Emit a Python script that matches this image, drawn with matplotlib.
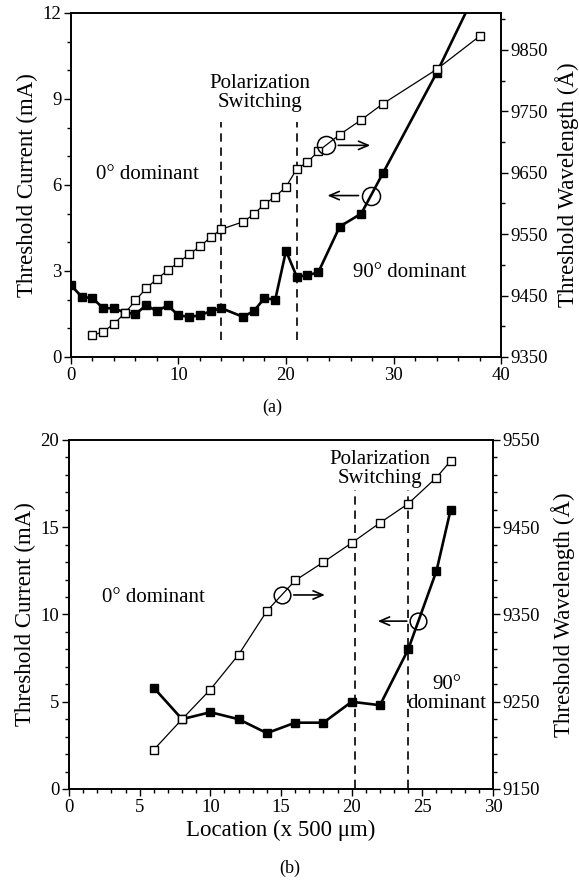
import numpy as np
import matplotlib
matplotlib.use('Agg')
import matplotlib.pyplot as plt
from matplotlib.ticker import MultipleLocator

plt.rcParams['font.family'] = ['Liberation Serif', 'DejaVu Serif']
plt.rcParams['mathtext.fontset'] = 'stix'

# ---- panel (a) data ----
a_loc_I = [0, 1, 2, 3, 4, 5, 6, 7, 8, 9, 10, 11, 12, 13, 14, 16, 17, 18, 19,
           20, 21, 22, 23, 25, 27, 29, 34, 38]
a_current = [2.5, 2.1, 2.05, 1.7, 1.7, 1.55, 1.5, 1.8, 1.6, 1.8, 1.45, 1.4,
             1.45, 1.6, 1.7, 1.4, 1.6, 2.05, 2.0, 3.7, 2.8, 2.85, 2.95, 4.55,
             5.0, 6.4, 9.9, 13.0]
a_loc_W = [2, 3, 4, 5, 6, 7, 8, 9, 10, 11, 12, 13, 14, 16, 17, 18, 19, 20, 21,
           22, 23, 25, 27, 29, 34, 38]
a_wave = [9385, 9391, 9404, 9421, 9442, 9462, 9477, 9491, 9504, 9517, 9530,
          9545, 9558, 9570, 9582, 9599, 9611, 9627, 9656, 9667, 9685, 9712,
          9736, 9762, 9818, 9872]
a_switch = [14, 21]
a_wave_ticks = [9350, 9450, 9550, 9650, 9750, 9850]

# ---- panel (b) data ----
b_loc = [6, 8, 10, 12, 14, 16, 18, 20, 22, 24, 26, 27]
b_current = [5.8, 4.0, 4.4, 4.0, 3.2, 3.8, 3.8, 5.0, 4.8, 8.0, 12.5, 16.0]
b_wave = [9195, 9230, 9264, 9304, 9354, 9389, 9410, 9432, 9455, 9477, 9507,
          9526]
b_switch = [20.2, 24.0]
b_wave_ticks = [9150, 9250, 9350, 9450, 9550]

fig = plt.figure(figsize=(5.79, 8.86), dpi=100)
ax1 = fig.add_axes([0.1226, 0.5971, 0.7427, 0.3883])
ax2 = fig.add_axes([0.1192, 0.1095, 0.7323, 0.3939])

TICK = 13.5
LAB = 16.5
TXT = 15


def style(ax):
    for s in ax.spines.values():
        s.set_linewidth(1.2)
    ax.tick_params(which='both', direction='out', labelsize=TICK, width=1)
    ax.tick_params(which='major', length=5, pad=2)
    ax.tick_params(which='minor', length=3)


def circle_arrow(ax, xs, ys, xc, x0, x1, ms=13):
    yc = np.interp(xc, xs, ys)
    ax.plot([xc], [yc], 'o', ms=ms, mfc='none', mec='k', mew=1.1, zorder=5)
    ax.annotate('', xy=(x1, yc), xytext=(x0, yc),
                arrowprops=dict(arrowstyle='->,head_length=0.7,head_width=0.3',
                                lw=1.2, color='k'))


# ---------------- panel (a) ----------------
ax1b = ax1.twinx()
ax1.plot(a_loc_I, a_current, '-s', color='k', lw=1.9, ms=6, mfc='k', zorder=3)
ax1b.plot(a_loc_W, a_wave, '-s', color='k', lw=0.9, ms=5.5, mfc='white',
          mew=1.0, zorder=3)
ax1.vlines(a_switch, 0.6, 8.2, colors='k', linestyles=(0, (5, 3.5)), lw=1.2)
ax1.set_xlim(0, 40)
ax1.set_ylim(0, 12)
ax1b.set_ylim(9350, 9910)
ax1.xaxis.set_major_locator(MultipleLocator(10))
ax1.xaxis.set_minor_locator(MultipleLocator(2))
ax1.yaxis.set_major_locator(MultipleLocator(3))
ax1.yaxis.set_minor_locator(MultipleLocator(1))
ax1b.set_yticks(a_wave_ticks)
ax1b.yaxis.set_minor_locator(MultipleLocator(50))
ax1.set_ylabel('Threshold Current (mA)', fontsize=LAB, labelpad=3)
ax1b.set_ylabel('Threshold Wavelength (Å)', fontsize=LAB, labelpad=5)
style(ax1)
style(ax1b)

ax1.text(17.6, 9.2, 'Polarization\nSwitching', ha='center', va='center',
         fontsize=TXT, linespacing=1.0)
ax1.text(2.3, 6.35, '0° dominant', ha='left', va='center', fontsize=TXT)
ax1.text(26.2, 2.93, '90° dominant', ha='left', va='center', fontsize=TXT)
circle_arrow(ax1b, a_loc_W, a_wave, 23.7, 24.6, 28.1)
circle_arrow(ax1, a_loc_I, a_current, 27.9, 27.0, 23.6)
fig.text(0.47, 1 - 407 / 886, '(a)', ha='center', va='center', fontsize=13)

# ---------------- panel (b) ----------------
ax2b = ax2.twinx()
ax2.plot(b_loc, b_current, '-s', color='k', lw=1.9, ms=6, mfc='k', zorder=3)
ax2b.plot(b_loc, b_wave, '-s', color='k', lw=0.9, ms=6, mfc='white',
          mew=1.0, zorder=3)
ax2.vlines(b_switch, 0.07, 17.15, colors='k', linestyles=(0, (5, 3.5)), lw=1.2)
ax2.set_xlim(0, 30)
ax2.set_ylim(0, 20)
ax2b.set_ylim(9150, 9550)
ax2.xaxis.set_major_locator(MultipleLocator(5))
ax2.xaxis.set_minor_locator(MultipleLocator(1))
ax2.yaxis.set_major_locator(MultipleLocator(5))
ax2.yaxis.set_minor_locator(MultipleLocator(1))
ax2b.set_yticks(b_wave_ticks)
ax2b.set_yticks(np.arange(9150, 9551, 20), minor=True)
ax2.set_xlabel('Location (x 500 μm)', fontsize=LAB, labelpad=3)
ax2.set_ylabel('Threshold Current (mA)', fontsize=LAB, labelpad=3)
ax2b.set_ylabel('Threshold Wavelength (Å)', fontsize=LAB, labelpad=8)
style(ax2)
style(ax2b)

ax2.text(22.0, 18.35, 'Polarization\nSwitching', ha='center', va='center',
         fontsize=TXT, linespacing=1.0)
ax2.text(2.3, 11.0, '0° dominant', ha='left', va='center', fontsize=TXT)
ax2.text(26.75, 5.47, '90°\ndominant', ha='center', va='center',
         fontsize=TXT, linespacing=1.0)
circle_arrow(ax2b, b_loc, b_wave, 15.05, 15.7, 18.3, ms=12)
circle_arrow(ax2, b_loc, b_current, 24.72, 24.1, 21.65, ms=12)
fig.text(0.5, 1 - 868 / 886, '(b)', ha='center', va='center', fontsize=13)

fig.savefig('out.png', dpi=100)
